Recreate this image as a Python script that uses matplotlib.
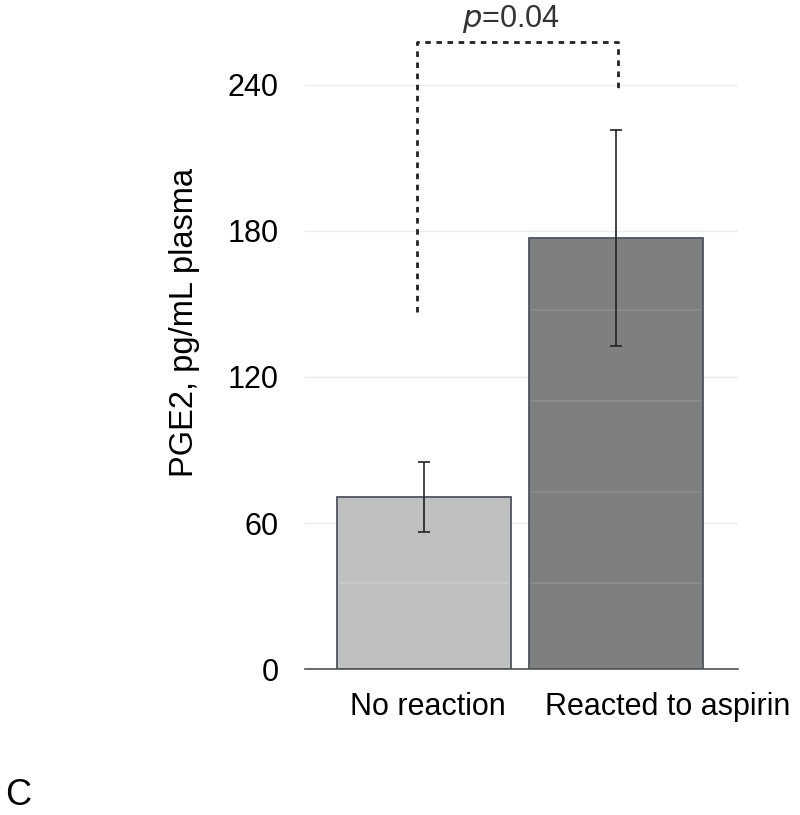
import numpy as np
import matplotlib.pyplot as plt

plt.rcParams['font.family'] = ['Liberation Sans', 'DejaVu Sans']

groups = ['No reaction', 'Reacted to aspirin']
means = [70.7, 177.1]
errs = [14.2, 44.3]
# faint internal divisions visible inside each bar
inner_lines = [[35.3], [35.3, 72.7, 110.0, 147.5]]
yticks = [0, 60, 120, 180, 240]
p_text = r'$\it{p}$=0.04'
bracket_left, bracket_top, bracket_right = 146.7, 257.7, 238.8

fig = plt.figure(figsize=(8, 8.15), dpi=100)
ax = fig.add_axes([0.381, 0.179, 0.541, 0.717])

x = np.arange(len(groups))
width = 0.906
bars = ax.bar(x, means, width=width, color=['#c0c0c0', '#7f7f7f'],
              edgecolor='#4d5563', linewidth=1.3, zorder=2)
for xi, levels, col in zip(x, inner_lines, ['#cbcbcb', '#8e8e8e']):
    ax.hlines(levels, xi - width / 2 + 0.01, xi + width / 2 - 0.01,
              color=col, linewidth=1.2, zorder=3)
ax.errorbar(x, means, yerr=errs, fmt='none', ecolor='#222222',
            elinewidth=1.2, capsize=4, capthick=1.2, zorder=4)

ax.set_xlim(-0.622, 1.633)
ax.set_ylim(0, 240)
ax.set_yticks(yticks)
ax.set_yticklabels([str(t) for t in yticks], fontsize=22)
ax.tick_params(axis='y', length=0, pad=19)
ax.set_xticks([])
ax.grid(axis='y', color='#ebebeb', linewidth=1, zorder=0)
ax.set_axisbelow(True)
for s in ['top', 'right', 'left']:
    ax.spines[s].set_visible(False)
ax.spines['bottom'].set_color('#555555')
ax.spines['bottom'].set_linewidth(1.2)
ax.spines['bottom'].set_zorder(5)

fig.text(185 / 800, 1 - 323 / 815, 'PGE2, pg/mL plasma', rotation=90,
         ha='center', va='center', fontsize=23.5)

# x labels placed as in the figure
ax.text(0.02, -0.04, groups[0], transform=ax.get_xaxis_transform(),
        ha='center', va='top', fontsize=22)
ax.text(1.27, -0.04, groups[1], transform=ax.get_xaxis_transform(),
        ha='center', va='top', fontsize=22)

# significance bracket
bx = [-0.035, -0.035, 1.01, 1.01]
by = [bracket_left, bracket_top, bracket_top, bracket_right]
ax.plot(bx, by, color='#222222', linestyle=(0, (2, 2)), linewidth=2,
        clip_on=False, zorder=5)
ax.text(0.45, 267, p_text, ha='center', va='center', fontsize=22,
        color='#333333', clip_on=False)

fig.text(0.006, 10 / 815, 'C', fontsize=26, ha='left', va='baseline')

fig.savefig('out.png', dpi=100)
